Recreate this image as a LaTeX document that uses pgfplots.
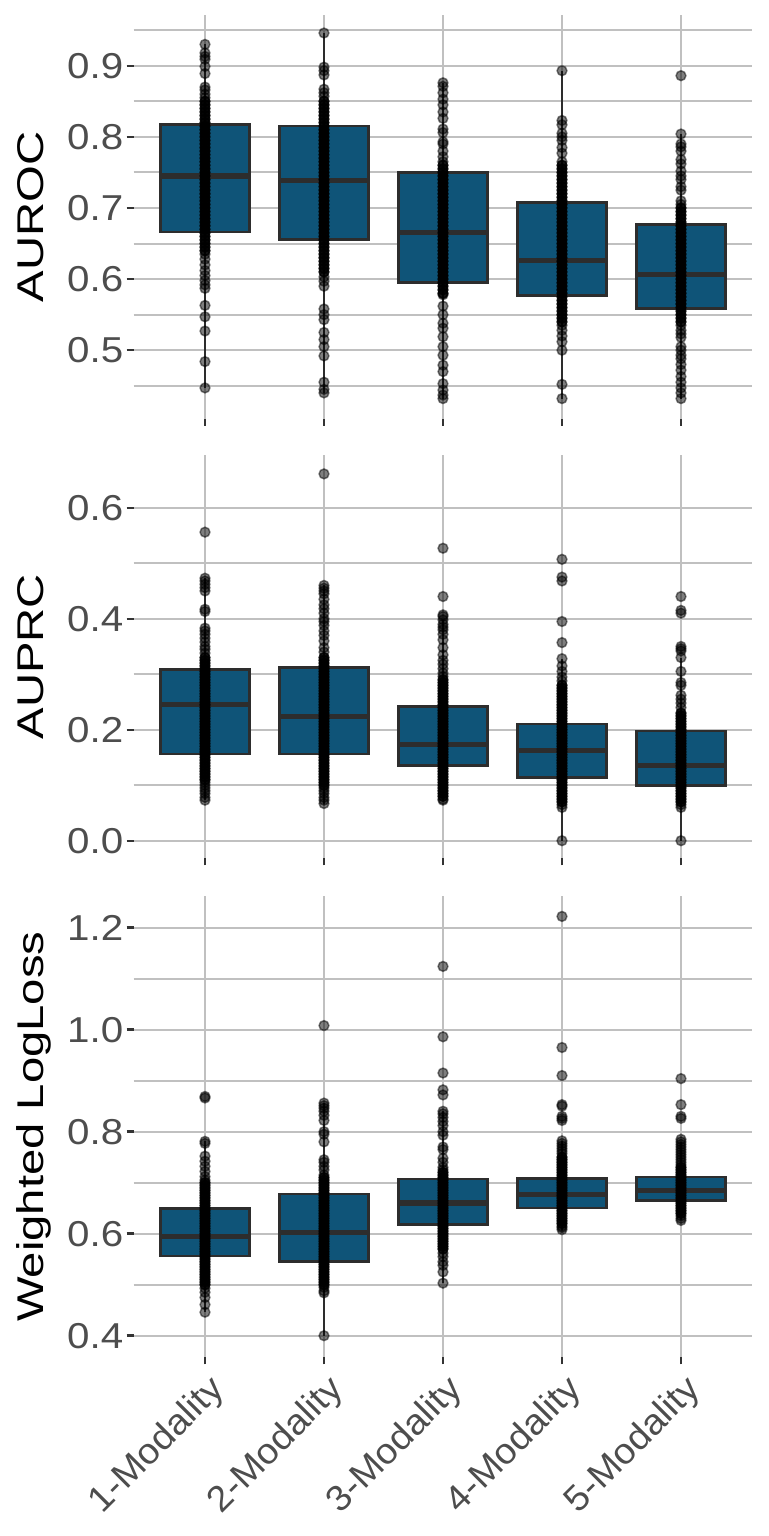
\documentclass[border=0pt]{standalone}
\usepackage{fontspec}
\setmainfont{Liberation Sans}
\newfontfamily\titlefont[FakeStretch=1.27]{Liberation Sans}
\newfontfamily\tickfont[FakeStretch=1.12]{Liberation Sans}
\newfontfamily\xtickfont[FakeStretch=1.05]{Liberation Sans}
\usepackage{pgfplots}
\pgfplotsset{compat=1.18}
\definecolor{boxblue}{RGB}{15,84,120}
\definecolor{boxline}{RGB}{45,45,45}
\definecolor{gridc}{RGB}{192,192,192}
\definecolor{tickc}{RGB}{51,51,51}
\definecolor{ticklab}{RGB}{77,77,77}
\pgfplotsset{
  panel/.style={
    scale only axis, width=309.4pt, xmin=0.4, xmax=5.6,
    xtick={1,2,3,4,5}, xticklabels={},
    axis line style={draw=none},
    tick align=outside, xtick pos=bottom, ytick pos=left,
    major tick length=3.5pt, minor tick length=0pt,
    tick style={color=tickc, line width=1.2pt},
    xmajorgrids, ymajorgrids, yminorgrids,
    major grid style={gridc, line width=1pt},
    minor grid style={gridc, line width=1pt},
    clip=false,
    yticklabel style={font=\tickfont\fontsize{18pt}{20pt}\selectfont, color=ticklab, anchor=east, inner sep=0pt, xshift=-1.5pt},
    /pgf/number format/.cd, fixed, fixed zerofill, precision=1, assume math mode=true, /pgfplots/.cd,
    every axis y label/.style={at={(axis description cs:-0.146,0.5)}, rotate=90, anchor=base, font=\titlefont\fontsize{18.6pt}{20pt}\selectfont, color=black},
  },
  whisk/.style={draw=boxline, line width=1.3pt, unbounded coords=jump, mark=none},
  boxs/.style={fill=boxblue, draw=boxline, line width=1.3pt, line join=miter, mark=none},
  med/.style={draw=boxline, line width=2.6pt, unbounded coords=jump, mark=none},
  pts/.style={only marks, mark=*, mark size=2.45pt, mark options={fill=black, draw=black, fill opacity=0.5, draw opacity=0.5, line width=0.75pt}},
  dense/.style={only marks, mark=*, mark size=2.45pt, mark options={fill=black, draw=black, fill opacity=0.85, draw opacity=0.85, line width=0.75pt}},
}
\begin{document}
\begin{tikzpicture}
\useasboundingbox (0,0) rectangle (384pt,-768pt);
% ---------------- AUROC ----------------
\begin{axis}[panel, at={(66.8pt,-7.5pt)}, anchor=north west, height=201.75pt,
  ymin=0.404, ymax=0.9713, ytick={0.5,0.6,0.7,0.8,0.9}, minor ytick={0.45,0.55,0.65,0.75,0.85,0.95},
  ylabel={AUROC}]
\addplot[whisk] coordinates {(1,0.447)(1,0.930)(1,nan)(2,0.440)(2,0.946)(2,nan)(3,0.432)(3,0.876)(3,nan)(4,0.432)(4,0.893)(4,nan)(5,0.432)(5,0.804)};
\addplot[boxs] coordinates {(0.625,0.666)(1.375,0.666)(1.375,0.817)(0.625,0.817)} --cycle;
\addplot[boxs] coordinates {(1.625,0.656)(2.375,0.656)(2.375,0.815)(1.625,0.815)} --cycle;
\addplot[boxs] coordinates {(2.625,0.595)(3.375,0.595)(3.375,0.750)(2.625,0.750)} --cycle;
\addplot[boxs] coordinates {(3.625,0.577)(4.375,0.577)(4.375,0.708)(3.625,0.708)} --cycle;
\addplot[boxs] coordinates {(4.625,0.559)(5.375,0.559)(5.375,0.677)(4.625,0.677)} --cycle;
\addplot[med] coordinates {(0.625,0.745)(1.375,0.745)(1,nan)(1.625,0.739)(2.375,0.739)(2,nan)(2.625,0.666)(3.375,0.666)(3,nan)(3.625,0.626)(4.375,0.626)(4,nan)(4.625,0.607)(5.375,0.607)};
\addplot[pts] coordinates {
(1,0.930)(1,0.918)(1,0.913)(1,0.909)(1,0.899)(1,0.889)(1,0.870)(1,0.866)(1,0.860)(1,0.855)
(1,0.635)(1,0.628)(1,0.620)(1,0.612)(1,0.605)(1,0.598)(1,0.592)(1,0.587)(1,0.563)(1,0.547)(1,0.527)(1,0.484)(1,0.447)
(2,0.946)(2,0.898)(2,0.893)(2,0.887)(2,0.867)(2,0.862)(2,0.857)
(2,0.603)(2,0.597)(2,0.590)(2,0.558)(2,0.550)(2,0.543)(2,0.525)(2,0.515)(2,0.505)(2,0.492)(2,0.455)(2,0.445)(2,0.440)
(3,0.876)(3,0.871)(3,0.862)(3,0.853)(3,0.845)(3,0.835)(3,0.826)(3,0.811)(3,0.806)(3,0.793)(3,0.790)(3,0.780)(3,0.772)(3,0.765)
(3,0.578)(3,0.562)(3,0.550)(3,0.538)(3,0.531)(3,0.519)(3,0.505)(3,0.493)(3,0.479)(3,0.470)(3,0.453)(3,0.444)(3,0.437)(3,0.432)
(4,0.893)(4,0.823)(4,0.817)(4,0.805)(4,0.800)(4,0.795)(4,0.785)(4,0.777)(4,0.765)
(4,0.535)(4,0.528)(4,0.520)(4,0.512)(4,0.500)(4,0.452)(4,0.432)
(5,0.886)(5,0.804)(5,0.790)(5,0.786)(5,0.780)(5,0.768)(5,0.762)(5,0.752)(5,0.745)(5,0.740)(5,0.730)(5,0.725)(5,0.710)(5,0.705)
(5,0.535)(5,0.528)(5,0.523)(5,0.518)(5,0.505)(5,0.500)(5,0.493)(5,0.488)(5,0.480)(5,0.472)(5,0.463)(5,0.455)(5,0.447)(5,0.440)(5,0.432)
};
\addplot[dense] coordinates {
(1,0.850)(1,0.845)(1,0.840)(1,0.835)(1,0.830)(1,0.825)(1,0.820)(1,0.815)(1,0.810)(1,0.805)(1,0.800)(1,0.795)(1,0.790)(1,0.785)(1,0.780)(1,0.775)(1,0.770)(1,0.765)(1,0.760)(1,0.755)(1,0.750)(1,0.745)(1,0.740)(1,0.735)(1,0.730)(1,0.725)(1,0.720)(1,0.715)(1,0.710)(1,0.705)(1,0.700)(1,0.695)(1,0.690)(1,0.685)(1,0.680)(1,0.675)(1,0.670)(1,0.665)(1,0.660)(1,0.655)(1,0.650)(1,0.645)(1,0.640)
(2,0.850)(2,0.845)(2,0.840)(2,0.835)(2,0.830)(2,0.825)(2,0.820)(2,0.815)(2,0.810)(2,0.805)(2,0.800)(2,0.795)(2,0.790)(2,0.785)(2,0.780)(2,0.775)(2,0.770)(2,0.765)(2,0.760)(2,0.755)(2,0.750)(2,0.745)(2,0.740)(2,0.735)(2,0.730)(2,0.725)(2,0.720)(2,0.715)(2,0.710)(2,0.705)(2,0.700)(2,0.695)(2,0.690)(2,0.685)(2,0.680)(2,0.675)(2,0.670)(2,0.665)(2,0.660)(2,0.655)(2,0.650)(2,0.645)(2,0.640)(2,0.635)(2,0.630)(2,0.625)(2,0.620)(2,0.615)(2,0.610)
(3,0.760)(3,0.755)(3,0.750)(3,0.745)(3,0.740)(3,0.735)(3,0.730)(3,0.725)(3,0.720)(3,0.715)(3,0.710)(3,0.705)(3,0.700)(3,0.695)(3,0.690)(3,0.685)(3,0.680)(3,0.675)(3,0.670)(3,0.665)(3,0.660)(3,0.655)(3,0.650)(3,0.645)(3,0.640)(3,0.635)(3,0.630)(3,0.625)(3,0.620)(3,0.615)(3,0.610)(3,0.605)(3,0.600)(3,0.595)(3,0.590)(3,0.585)(3,0.580)
(4,0.760)(4,0.755)(4,0.750)(4,0.745)(4,0.740)(4,0.735)(4,0.730)(4,0.725)(4,0.720)(4,0.715)(4,0.710)(4,0.705)(4,0.700)(4,0.695)(4,0.690)(4,0.685)(4,0.680)(4,0.675)(4,0.670)(4,0.665)(4,0.660)(4,0.655)(4,0.650)(4,0.645)(4,0.640)(4,0.635)(4,0.630)(4,0.625)(4,0.620)(4,0.615)(4,0.610)(4,0.605)(4,0.600)(4,0.595)(4,0.590)(4,0.585)(4,0.580)(4,0.575)(4,0.570)(4,0.565)(4,0.560)(4,0.555)(4,0.550)(4,0.545)(4,0.540)
(5,0.700)(5,0.695)(5,0.690)(5,0.685)(5,0.680)(5,0.675)(5,0.670)(5,0.665)(5,0.660)(5,0.655)(5,0.650)(5,0.645)(5,0.640)(5,0.635)(5,0.630)(5,0.625)(5,0.620)(5,0.615)(5,0.610)(5,0.605)(5,0.600)(5,0.595)(5,0.590)(5,0.585)(5,0.580)(5,0.575)(5,0.570)(5,0.565)(5,0.560)(5,0.555)(5,0.550)(5,0.545)(5,0.540)
};
\end{axis}
% ---------------- AUPRC ----------------
\begin{axis}[panel, at={(66.8pt,-227.5pt)}, anchor=north west, height=201.65pt,
  ymin=-0.0317, ymax=0.695, ytick={0,0.2,0.4,0.6}, minor ytick={0.1,0.3,0.5},
  ylabel={AUPRC}]
\addplot[whisk] coordinates {(1,0.073)(1,0.473)(1,nan)(2,0.067)(2,0.460)(2,nan)(3,0.073)(3,0.398)(3,nan)(4,0.000)(4,0.328)(4,nan)(5,0.000)(5,0.330)};
\addplot[boxs] coordinates {(0.625,0.156)(1.375,0.156)(1.375,0.308)(0.625,0.308)} --cycle;
\addplot[boxs] coordinates {(1.625,0.156)(2.375,0.156)(2.375,0.312)(1.625,0.312)} --cycle;
\addplot[boxs] coordinates {(2.625,0.135)(3.375,0.135)(3.375,0.2415)(2.625,0.2415)} --cycle;
\addplot[boxs] coordinates {(3.625,0.114)(4.375,0.114)(4.375,0.210)(3.625,0.210)} --cycle;
\addplot[boxs] coordinates {(4.625,0.099)(5.375,0.099)(5.375,0.198)(4.625,0.198)} --cycle;
\addplot[med] coordinates {(0.625,0.246)(1.375,0.246)(1,nan)(1.625,0.224)(2.375,0.224)(2,nan)(2.625,0.174)(3.375,0.174)(3,nan)(3.625,0.163)(4.375,0.163)(4,nan)(4.625,0.135)(5.375,0.135)};
\addplot[pts] coordinates {
(1,0.556)(1,0.473)(1,0.468)(1,0.462)(1,0.456)(1,0.450)(1,0.417)(1,0.413)(1,0.383)(1,0.378)(1,0.372)(1,0.365)(1,0.358)(1,0.350)(1,0.345)(1,0.338)
(1,0.105)(1,0.100)(1,0.095)(1,0.090)(1,0.085)(1,0.078)(1,0.073)
(2,0.661)(2,0.460)(2,0.455)(2,0.450)(2,0.445)(2,0.435)(2,0.425)(2,0.418)(2,0.410)(2,0.400)(2,0.395)(2,0.388)(2,0.378)(2,0.370)(2,0.360)(2,0.348)(2,0.340)
(2,0.095)(2,0.090)(2,0.085)(2,0.078)(2,0.073)(2,0.067)
(3,0.527)(3,0.440)(3,0.407)(3,0.404)(3,0.398)(3,0.390)(3,0.385)(3,0.380)(3,0.372)(3,0.362)(3,0.348)(3,0.335)(3,0.325)(3,0.318)(3,0.310)(3,0.302)(3,0.296)
(3,0.075)(3,0.073)
(4,0.507)(4,0.475)(4,0.468)(4,0.395)(4,0.357)(4,0.328)(4,0.315)(4,0.305)(4,0.295)(4,0.288)
(4,0.065)(4,0.060)(4,0.000)
(5,0.440)(5,0.415)(5,0.410)(5,0.350)(5,0.346)(5,0.342)(5,0.330)(5,0.305)(5,0.285)(5,0.280)(5,0.262)(5,0.255)(5,0.248)(5,0.240)
(5,0.065)(5,0.060)(5,0.000)
};
\addplot[dense] coordinates {
(1,0.330)(1,0.325)(1,0.320)(1,0.315)(1,0.310)(1,0.305)(1,0.300)(1,0.295)(1,0.290)(1,0.285)(1,0.280)(1,0.275)(1,0.270)(1,0.265)(1,0.260)(1,0.255)(1,0.250)(1,0.245)(1,0.240)(1,0.235)(1,0.230)(1,0.225)(1,0.220)(1,0.215)(1,0.210)(1,0.205)(1,0.200)(1,0.195)(1,0.190)(1,0.185)(1,0.180)(1,0.175)(1,0.170)(1,0.165)(1,0.160)(1,0.155)(1,0.150)(1,0.145)(1,0.140)(1,0.135)(1,0.130)(1,0.125)(1,0.120)(1,0.115)(1,0.110)
(2,0.330)(2,0.325)(2,0.320)(2,0.315)(2,0.310)(2,0.305)(2,0.300)(2,0.295)(2,0.290)(2,0.285)(2,0.280)(2,0.275)(2,0.270)(2,0.265)(2,0.260)(2,0.255)(2,0.250)(2,0.245)(2,0.240)(2,0.235)(2,0.230)(2,0.225)(2,0.220)(2,0.215)(2,0.210)(2,0.205)(2,0.200)(2,0.195)(2,0.190)(2,0.185)(2,0.180)(2,0.175)(2,0.170)(2,0.165)(2,0.160)(2,0.155)(2,0.150)(2,0.145)(2,0.140)(2,0.135)(2,0.130)(2,0.125)(2,0.120)(2,0.115)(2,0.110)(2,0.105)(2,0.100)
(3,0.290)(3,0.285)(3,0.280)(3,0.275)(3,0.270)(3,0.265)(3,0.260)(3,0.255)(3,0.250)(3,0.245)(3,0.240)(3,0.235)(3,0.230)(3,0.225)(3,0.220)(3,0.215)(3,0.210)(3,0.205)(3,0.200)(3,0.195)(3,0.190)(3,0.185)(3,0.180)(3,0.175)(3,0.170)(3,0.165)(3,0.160)(3,0.155)(3,0.150)(3,0.145)(3,0.140)(3,0.135)(3,0.130)(3,0.125)(3,0.120)(3,0.115)(3,0.110)(3,0.105)(3,0.100)(3,0.095)(3,0.090)(3,0.085)(3,0.080)
(4,0.280)(4,0.275)(4,0.270)(4,0.265)(4,0.260)(4,0.255)(4,0.250)(4,0.245)(4,0.240)(4,0.235)(4,0.230)(4,0.225)(4,0.220)(4,0.215)(4,0.210)(4,0.205)(4,0.200)(4,0.195)(4,0.190)(4,0.185)(4,0.180)(4,0.175)(4,0.170)(4,0.165)(4,0.160)(4,0.155)(4,0.150)(4,0.145)(4,0.140)(4,0.135)(4,0.130)(4,0.125)(4,0.120)(4,0.115)(4,0.110)(4,0.105)(4,0.100)(4,0.095)(4,0.090)(4,0.085)(4,0.080)(4,0.075)(4,0.070)
(5,0.230)(5,0.225)(5,0.220)(5,0.215)(5,0.210)(5,0.205)(5,0.200)(5,0.195)(5,0.190)(5,0.185)(5,0.180)(5,0.175)(5,0.170)(5,0.165)(5,0.160)(5,0.155)(5,0.150)(5,0.145)(5,0.140)(5,0.135)(5,0.130)(5,0.125)(5,0.120)(5,0.115)(5,0.110)(5,0.105)(5,0.100)(5,0.095)(5,0.090)(5,0.085)(5,0.080)(5,0.075)(5,0.070)
};
\end{axis}
% ---------------- Weighted LogLoss ----------------
\begin{axis}[panel, at={(66.8pt,-448pt)}, anchor=north west, height=230.65pt,
  ymin=0.3576, ymax=1.262, ytick={0.4,0.6,0.8,1.0,1.2}, minor ytick={0.5,0.7,0.9,1.1},
  ylabel={Weighted LogLoss},
  xticklabels={1-Modality,2-Modality,3-Modality,4-Modality,5-Modality},
  xticklabel style={font=\xtickfont\fontsize{18pt}{20pt}\selectfont, color=ticklab, rotate=45, anchor=north east, inner sep=0pt, yshift=-3.5pt, xshift=-2pt}]
\addplot[whisk] coordinates {(1,0.446)(1,0.781)(1,nan)(2,0.400)(2,0.856)(2,nan)(3,0.503)(3,0.840)(3,nan)(4,0.608)(4,0.782)(4,nan)(5,0.626)(5,0.780)};
\addplot[boxs] coordinates {(0.625,0.556)(1.375,0.556)(1.375,0.649)(0.625,0.649)} --cycle;
\addplot[boxs] coordinates {(1.625,0.545)(2.375,0.545)(2.375,0.678)(1.625,0.678)} --cycle;
\addplot[boxs] coordinates {(2.625,0.618)(3.375,0.618)(3.375,0.707)(2.625,0.707)} --cycle;
\addplot[boxs] coordinates {(3.625,0.650)(4.375,0.650)(4.375,0.708)(3.625,0.708)} --cycle;
\addplot[boxs] coordinates {(4.625,0.665)(5.375,0.665)(5.375,0.711)(4.625,0.711)} --cycle;
\addplot[med] coordinates {(0.625,0.595)(1.375,0.595)(1,nan)(1.625,0.603)(2.375,0.603)(2,nan)(2.625,0.660)(3.375,0.660)(3,nan)(3.625,0.677)(4.375,0.677)(4,nan)(4.625,0.685)(5.375,0.685)};
\addplot[pts] coordinates {
(1,0.869)(1,0.866)(1,0.781)(1,0.777)(1,0.752)(1,0.742)(1,0.732)(1,0.722)(1,0.712)(1,0.705)
(1,0.493)(1,0.485)(1,0.475)(1,0.461)(1,0.446)
(2,1.008)(2,0.856)(2,0.851)(2,0.846)(2,0.840)(2,0.832)(2,0.822)(2,0.800)(2,0.795)(2,0.780)(2,0.745)(2,0.740)(2,0.732)(2,0.725)(2,0.715)
(2,0.495)(2,0.488)(2,0.484)(2,0.400)
(3,1.124)(3,0.986)(3,0.915)(3,0.882)(3,0.872)(3,0.840)(3,0.835)(3,0.828)(3,0.820)(3,0.812)(3,0.800)(3,0.793)(3,0.770)(3,0.765)(3,0.748)(3,0.740)(3,0.730)(3,0.725)
(3,0.562)(3,0.555)(3,0.545)(3,0.538)(3,0.525)(3,0.503)
(4,1.222)(4,0.965)(4,0.910)(4,0.853)(4,0.850)(4,0.830)(4,0.826)(4,0.822)(4,0.782)(4,0.777)(4,0.772)(4,0.767)(4,0.762)(4,0.757)
(4,0.615)(4,0.612)(4,0.608)
(5,0.904)(5,0.853)(5,0.830)(5,0.826)(5,0.785)(5,0.780)(5,0.775)(5,0.770)(5,0.765)(5,0.760)(5,0.755)(5,0.750)(5,0.745)(5,0.740)(5,0.735)
(5,0.635)(5,0.630)(5,0.626)
};
\addplot[dense] coordinates {
(1,0.700)(1,0.695)(1,0.690)(1,0.685)(1,0.680)(1,0.675)(1,0.670)(1,0.665)(1,0.660)(1,0.655)(1,0.650)(1,0.645)(1,0.640)(1,0.635)(1,0.630)(1,0.625)(1,0.620)(1,0.615)(1,0.610)(1,0.605)(1,0.600)(1,0.595)(1,0.590)(1,0.585)(1,0.580)(1,0.575)(1,0.570)(1,0.565)(1,0.560)(1,0.555)(1,0.550)(1,0.545)(1,0.540)(1,0.535)(1,0.530)(1,0.525)(1,0.520)(1,0.515)(1,0.510)(1,0.505)(1,0.500)
(2,0.710)(2,0.705)(2,0.700)(2,0.695)(2,0.690)(2,0.685)(2,0.680)(2,0.675)(2,0.670)(2,0.665)(2,0.660)(2,0.655)(2,0.650)(2,0.645)(2,0.640)(2,0.635)(2,0.630)(2,0.625)(2,0.620)(2,0.615)(2,0.610)(2,0.605)(2,0.600)(2,0.595)(2,0.590)(2,0.585)(2,0.580)(2,0.575)(2,0.570)(2,0.565)(2,0.560)(2,0.555)(2,0.550)(2,0.545)(2,0.540)(2,0.535)(2,0.530)(2,0.525)(2,0.520)(2,0.515)(2,0.510)(2,0.505)(2,0.500)
(3,0.720)(3,0.715)(3,0.710)(3,0.705)(3,0.700)(3,0.695)(3,0.690)(3,0.685)(3,0.680)(3,0.675)(3,0.670)(3,0.665)(3,0.660)(3,0.655)(3,0.650)(3,0.645)(3,0.640)(3,0.635)(3,0.630)(3,0.625)(3,0.620)(3,0.615)(3,0.610)(3,0.605)(3,0.600)(3,0.595)(3,0.590)(3,0.585)(3,0.580)(3,0.575)(3,0.570)
(4,0.750)(4,0.745)(4,0.740)(4,0.735)(4,0.730)(4,0.725)(4,0.720)(4,0.715)(4,0.710)(4,0.705)(4,0.700)(4,0.695)(4,0.690)(4,0.685)(4,0.680)(4,0.675)(4,0.670)(4,0.665)(4,0.660)(4,0.655)(4,0.650)(4,0.645)(4,0.640)(4,0.635)(4,0.630)(4,0.625)(4,0.620)
(5,0.730)(5,0.725)(5,0.720)(5,0.715)(5,0.710)(5,0.705)(5,0.700)(5,0.695)(5,0.690)(5,0.685)(5,0.680)(5,0.675)(5,0.670)(5,0.665)(5,0.660)(5,0.655)(5,0.650)(5,0.645)(5,0.640)
};
\end{axis}
\end{tikzpicture}
\end{document}
